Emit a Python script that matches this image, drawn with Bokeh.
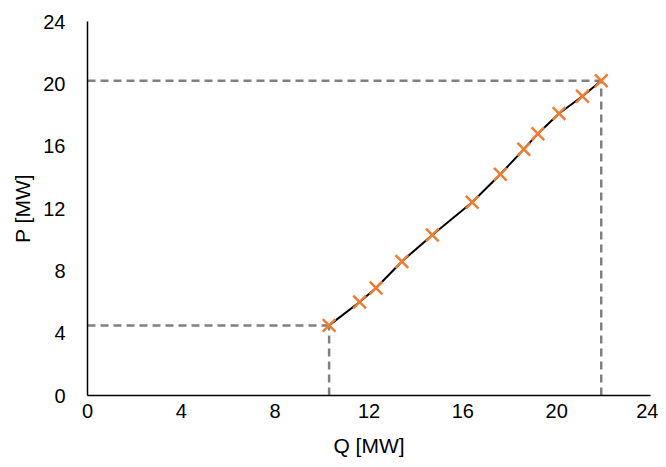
from bokeh.plotting import figure
from bokeh.models import Range1d, FixedTicker, Title
from bokeh.embed import file_html
from bokeh.resources import INLINE

# Data
q_values = [10.3, 11.6, 12.3, 13.4, 14.7, 16.4, 17.6, 18.6, 19.2, 20.1, 21.1, 21.9]
p_values = [4.5, 6.0, 6.9, 8.6, 10.3, 12.4, 14.2, 15.8, 16.8, 18.1, 19.2, 20.2]
tick_values = [0, 4, 8, 12, 16, 20, 24]
x_label = "Q [MW]"
y_label = "P [MW]"

FONT = "Liberation Sans"

p = figure(width=658, height=467, output_backend="svg", toolbar_location=None,
           x_range=Range1d(0, 24), y_range=Range1d(0, 24),
           min_border_left=87, min_border_right=8, min_border_top=21, min_border_bottom=72)
p.outline_line_color = None
p.xgrid.grid_line_color = None
p.ygrid.grid_line_color = None
p.background_fill_color = "white"

for ax in (p.xaxis[0], p.yaxis[0]):
    ax.ticker = FixedTicker(ticks=tick_values)
    ax.major_tick_line_color = None
    ax.minor_tick_line_color = None
    ax.major_tick_out = 0
    ax.major_tick_in = 0
    ax.axis_line_color = "black"
    ax.axis_line_width = 1.5
    ax.major_label_text_font = FONT
    ax.major_label_text_font_size = "20px"
    ax.major_label_text_color = "black"

p.xaxis.major_label_standoff = 8
p.yaxis.major_label_standoff = 22

# Axis titles as side titles
p.add_layout(Title(text=x_label, text_font=FONT, text_font_size="21px",
                   text_font_style="normal", text_color="black",
                   align="center", offset=-6, standoff=22), "below")
p.add_layout(Title(text=y_label, text_font=FONT, text_font_size="21px",
                   text_font_style="normal", text_color="black",
                   align="center", offset=-13, standoff=14), "left")

# Dashed guide lines to the first and last operating points
q0, p0 = q_values[0], p_values[0]
q1, p1 = q_values[-1], p_values[-1]
dash_kw = dict(line_color="#808080", line_width=2.5, line_dash="8 5")
p.line([0, q0], [p0, p0], **dash_kw)
p.line([q0, q0], [0, p0], **dash_kw)
p.line([0, q1], [p1, p1], **dash_kw)
p.line([q1, q1], [0, p1], **dash_kw)

p.line(q_values, p_values, line_color="black", line_width=2)
p.scatter(q_values, p_values, marker="x", size=18, line_color="#ED7D31", line_width=2.5)

open("out.html", "w").write(file_html(p, INLINE))
